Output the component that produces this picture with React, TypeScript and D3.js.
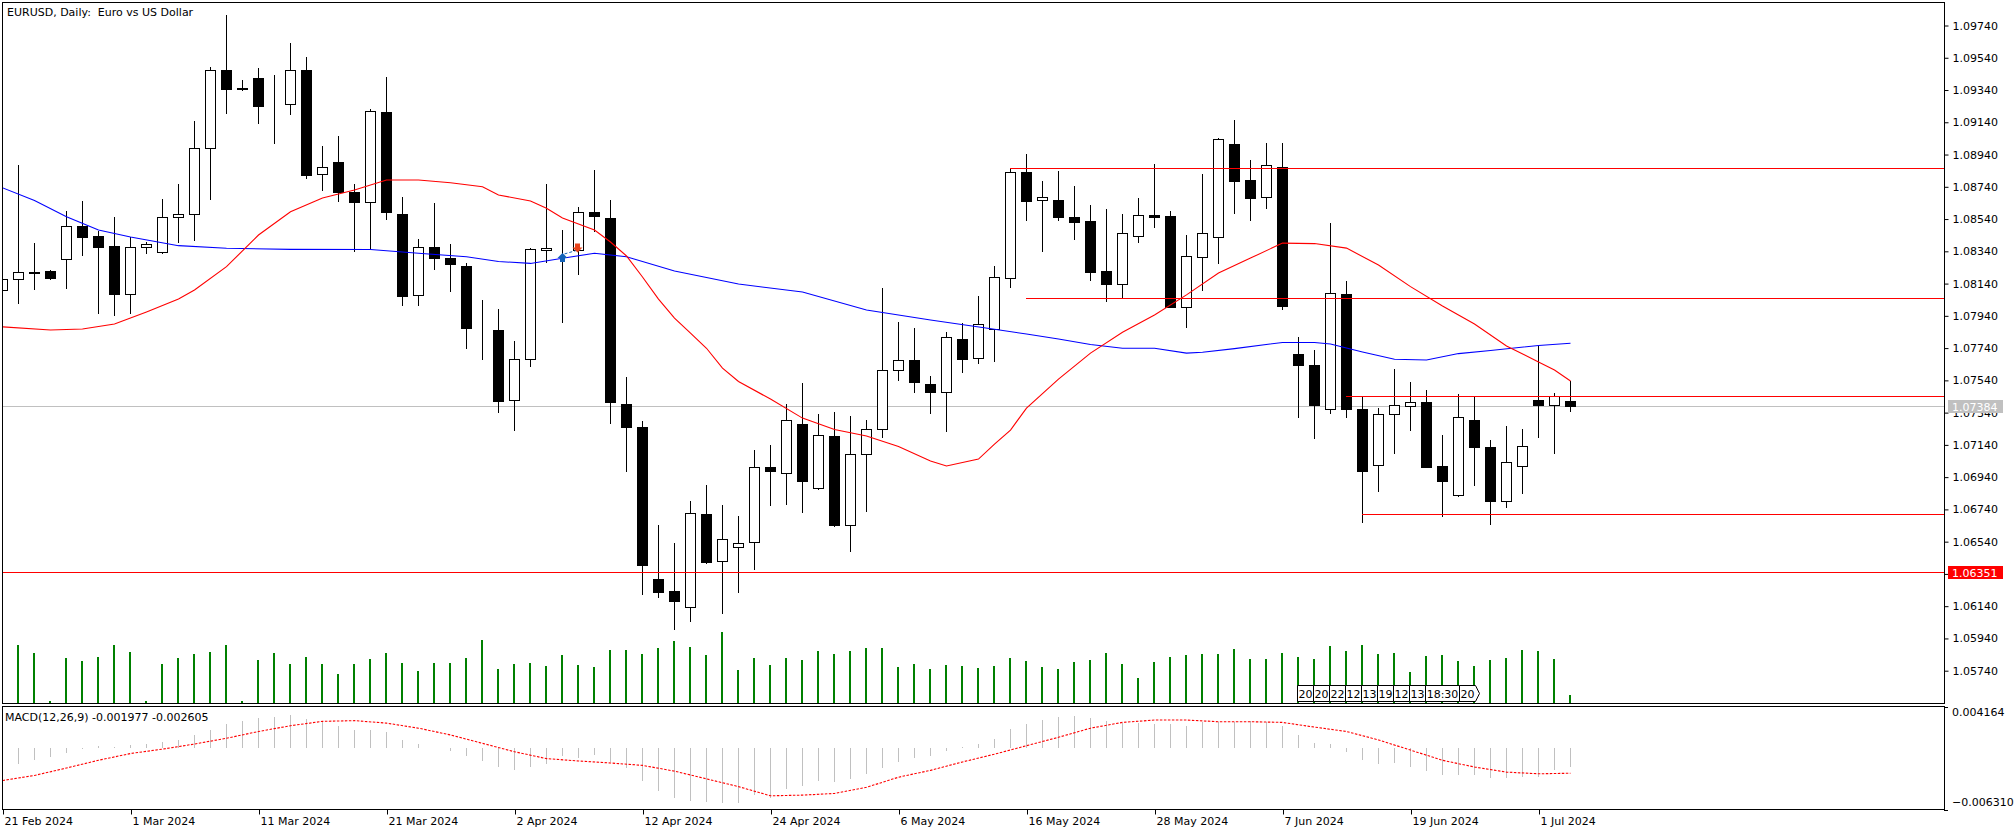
import { useEffect, useRef } from 'react';
import * as d3 from 'd3';

const WIDTH = 2016;
const HEIGHT = 834;
const FONT = '"DejaVu Sans", Verdana, sans-serif';

// EURUSD daily bars, 21 Feb 2024 .. 3 Jul 2024 (includes 3 short Sunday bars before US DST)
const opens = [1.08098,1.08166,1.08212,1.08218,1.08290,1.08495,1.08433,1.08371,1.08073,1.08365,
  1.08334,1.08551,1.08569,1.08979,1.09462,1.09348,1.09413,1.09247,1.09251,1.09462,
  1.08817,1.08892,1.08706,1.08644,1.09202,1.08569,1.08067,1.08365,1.08297,1.08247,
  1.07860,1.07850,1.07416,1.07670,1.08346,1.08352,1.08348,1.08584,1.08546,1.07391,
  1.07251,1.06306,1.06232,1.06133,1.06711,1.06418,1.06505,1.06536,1.07001,1.06964,
  1.07269,1.06871,1.07195,1.06641,1.07083,1.07236,1.07602,1.07666,1.07517,1.07470,
  1.07796,1.07676,1.07858,1.08173,1.08832,1.08656,1.08658,1.08553,1.08528,1.08218,
  1.08135,1.08437,1.08563,1.08559,1.07993,1.08303,1.08427,1.09005,1.08782,1.08675,
  1.08861,1.07701,1.07633,1.07360,1.08073,1.07360,1.07013,1.07329,1.07379,1.07404,
  1.07007,1.06827,1.07292,1.07125,1.06790,1.07007,1.07416,1.07385,1.07410];
const highs = [1.08212,1.08875,1.08391,1.08224,1.08590,1.08652,1.08466,1.08551,1.08427,1.08396,
  1.08662,1.08757,1.09148,1.09481,1.09805,1.09400,1.09475,1.09431,1.09631,1.09543,
  1.08993,1.09055,1.08755,1.09222,1.09421,1.08675,1.08416,1.08639,1.08383,1.08266,
  1.08036,1.07980,1.07784,1.08358,1.08757,1.08472,1.08617,1.08844,1.08660,1.07561,
  1.07288,1.06643,1.06531,1.06792,1.06891,1.06767,1.06699,1.07108,1.07139,1.07393,
  1.07523,1.07331,1.07344,1.07319,1.07292,1.08112,1.07902,1.07864,1.07567,1.07838,
  1.07897,1.08065,1.08249,1.08857,1.08943,1.08776,1.08838,1.08745,1.08627,1.08602,
  1.08571,1.08670,1.08881,1.08590,1.08441,1.08819,1.09042,1.09154,1.08906,1.09011,
  1.09011,1.07807,1.07730,1.08514,1.08156,1.07439,1.07366,1.07608,1.07530,1.07480,
  1.07201,1.07453,1.07439,1.07168,1.07257,1.07238,1.07757,1.07462,1.07534];
const lows = [1.08063,1.08021,1.08108,1.08170,1.08114,1.08317,1.07959,1.07947,1.07959,1.08328,
  1.08330,1.08400,1.08412,1.08666,1.09199,1.09340,1.09137,1.09013,1.09193,1.08796,
  1.08722,1.08654,1.08340,1.08354,1.08542,1.08009,1.08009,1.08232,1.08096,1.07742,
  1.07670,1.07344,1.07234,1.07631,1.08274,1.07904,1.08201,1.08468,1.07277,1.06980,
  1.06217,1.06195,1.06000,1.06050,1.06406,1.06096,1.06230,1.06372,1.06769,1.06775,
  1.06726,1.06868,1.06639,1.06484,1.06732,1.07191,1.07544,1.07470,1.07339,1.07228,
  1.07594,1.07649,1.07662,1.08121,1.08534,1.08342,1.08534,1.08416,1.08162,1.08034,
  1.08049,1.08400,1.08493,1.07993,1.07873,1.08100,1.08269,1.08579,1.08534,1.08610,
  1.07982,1.07314,1.07184,1.07336,1.07314,1.06663,1.06856,1.07091,1.07232,1.07002,
  1.06701,1.06824,1.06890,1.06651,1.06757,1.06843,1.07191,1.07091,1.07352];
const closes = [1.08166,1.08210,1.08208,1.08176,1.08495,1.08430,1.08369,1.08077,1.08365,1.08383,
  1.08551,1.08569,1.08979,1.09462,1.09348,1.09352,1.09243,1.09245,1.09462,1.08815,
  1.08861,1.08708,1.08644,1.09208,1.08586,1.08061,1.08365,1.08300,1.08263,1.07866,
  1.07856,1.07415,1.07675,1.08352,1.08358,1.08354,1.08582,1.08557,1.07408,1.07249,
  1.06397,1.06230,1.06174,1.06716,1.06416,1.06554,1.06530,1.07001,1.06976,1.07292,
  1.06918,1.07199,1.06645,1.07083,1.07236,1.07604,1.07664,1.07532,1.07470,1.07807,
  1.07674,1.07887,1.08181,1.08832,1.08654,1.08675,1.08553,1.08524,1.08212,1.08139,
  1.08452,1.08563,1.08555,1.07997,1.08311,1.08452,1.09034,1.08778,1.08672,1.08873,
  1.08001,1.07637,1.07389,1.08080,1.07360,1.06980,1.07329,1.07385,1.07404,1.07005,
  1.06914,1.07311,1.07128,1.06794,1.07032,1.07131,1.07389,1.07443,1.07384];

// tick volume, thousands
const volumes = [50,58,50,2,45,42,46,58,51,2,39,45,49,51,58,2,43,50,39,46,
  39,29,39,44,50,40,32,40,40,45,63,34,39,40,37,48,38,36,53,53,
  49,55,62,56,48,71,33,45,38,45,43,52,49,52,55,55,36,39,34,38,
  37,35,37,45,42,36,34,41,43,50,39,25,41,46,48,49,49,54,44,44,
  50,46,44,57,52,58,49,50,31,47,48,42,37,43,45,53,52,44,8];

// MACD(12,26,9) main line (histogram) per bar
const macdMain = [-0.00190,-0.00169,-0.00128,-0.00097,-0.00055,-0.00014,0.00018,0.00010,0.00028,0.00038,
  0.00059,0.00080,0.00131,0.00183,0.00245,0.00277,0.00308,0.00318,0.00339,0.00297,
  0.00266,0.00225,0.00183,0.00183,0.00163,0.00080,0.00038,0.00002,-0.00031,-0.00086,
  -0.00138,-0.00200,-0.00231,-0.00200,-0.00169,-0.00086,-0.00107,-0.00076,-0.00148,-0.00211,
  -0.00335,-0.00439,-0.00511,-0.00542,-0.00553,-0.00563,-0.00563,-0.00480,-0.00511,-0.00418,
  -0.00394,-0.00342,-0.00353,-0.00321,-0.00270,-0.00207,-0.00145,-0.00104,-0.00083,-0.00031,
  0.00003,0.00038,0.00090,0.00194,0.00245,0.00287,0.00318,0.00328,0.00308,0.00277,
  0.00256,0.00256,0.00245,0.00245,0.00225,0.00266,0.00266,0.00266,0.00277,0.00266,
  0.00225,0.00131,0.00048,0.00038,-0.00041,-0.00124,-0.00166,-0.00156,-0.00197,-0.00239,
  -0.00280,-0.00280,-0.00280,-0.00311,-0.00311,-0.00301,-0.00301,-0.00228,-0.001977];

// signal line, read every second bar: [bar, value]
const macdSignal: [number, number][] = [[0,-0.00335],[2,-0.00283],[4,-0.00207],[6,-0.00128],[8,-0.00059],
  [10,-0.00014],[12,0.00038],[14,0.00097],[16,0.00166],[18,0.00225],[20,0.00270],[22,0.00277],
  [24,0.00252],[26,0.00200],[28,0.00131],[30,0.00045],[32,-0.00041],[34,-0.00111],[36,-0.00135],
  [38,-0.00156],[40,-0.00180],[42,-0.00239],[44,-0.00318],[46,-0.00397],[48,-0.00491],[50,-0.00484],
  [52,-0.00467],[54,-0.00404],[56,-0.00301],[58,-0.00231],[60,-0.00145],[62,-0.00066],[64,0.00021],
  [66,0.00107],[68,0.00200],[70,0.00259],[72,0.00283],[74,0.00283],[76,0.00266],[78,0.00266],
  [80,0.00259],[82,0.00211],[84,0.00166],[86,0.00080],[88,-0.00024],[90,-0.00128],[92,-0.00197],
  [94,-0.00249],[96,-0.00266],[98,-0.002605]];

// moving averages: [bar, price]
const maFast: [number, number][] = [[0,1.07872],[3,1.07852],[5,1.07858],[7,1.07889],[9,1.07964],
  [11,1.08044],[12,1.08100],[14,1.08245],[16,1.08441],[18,1.08585],[20,1.08670],[22,1.08720],
  [24,1.08782],[26,1.08782],[28,1.08765],[30,1.08740],[31,1.08689],[33,1.08652],[34,1.08607],
  [35,1.08546],[37,1.08472],[38,1.08398],[39,1.08311],[40,1.08181],[41,1.08044],[42,1.07926],
  [43,1.07833],[44,1.07739],[45,1.07616],[46,1.07533],[48,1.07424],[50,1.07306],[52,1.07235],
  [54,1.07195],[56,1.07130],[58,1.07040],[59,1.07009],[61,1.07052],[62,1.07145],[63,1.07232],
  [64,1.07368],[66,1.07548],[68,1.07709],[70,1.07838],[72,1.07945],[74,1.08070],[76,1.08205],
  [78,1.08298],[80,1.08391],[82,1.08388],[84,1.08360],[86,1.08255],[88,1.08121],[90,1.08001],
  [92,1.07889],[94,1.07753],[96,1.07654],[97,1.07604],[98,1.07536]];
const maSlow: [number, number][] = [[0,1.08734],[2,1.08655],[4,1.08555],[6,1.08472],[8,1.08429],
  [11,1.08375],[14,1.08359],[18,1.08352],[23,1.08351],[26,1.08328],[29,1.08306],[31,1.08277],
  [33,1.08265],[35,1.08297],[37,1.08328],[39,1.08306],[42,1.08218],[46,1.08137],[50,1.08088],
  [54,1.07976],[58,1.07914],[62,1.07857],[64,1.07827],[66,1.07796],[68,1.07762],[70,1.07739],
  [72,1.07739],[74,1.07709],[75,1.07714],[77,1.07737],[80,1.07775],[82,1.07775],[83,1.07765],
  [85,1.07716],[87,1.07671],[89,1.07666],[91,1.07706],[93,1.07725],[96,1.07756],[98,1.07770]];

const priceTicks = [1.0974,1.0954,1.0934,1.0914,1.0894,1.0874,1.0854,1.0834,1.0814,1.0794,1.0774,
  1.0754,1.0734,1.0714,1.0694,1.0674,1.0654,1.0634,1.0614,1.0594,1.0574];
const dateLabels = ['21 Feb 2024','1 Mar 2024','11 Mar 2024','21 Mar 2024','2 Apr 2024','12 Apr 2024',
  '24 Apr 2024','6 May 2024','16 May 2024','28 May 2024','7 Jun 2024','19 Jun 2024','1 Jul 2024'];
const dateBars = [0,8,16,24,32,40,48,56,64,72,80,88,96];

// horizontal levels drawn from a bar to the right edge
const levelPrices = [1.08857, 1.08049, 1.07441, 1.06709];
const levelStartBars = [63, 64, 84, 85];
const keyLevel = 1.06351;
const lastPrice = 1.07384;

// calendar event markers
const eventLabels = ['20','20','22','12','13','19','12','13','18:30','20'];
const eventBars = [81,82,83,84,85,86,87,88,89,91];

// trade: buy and close
const tradeBars = [35, 36];
const tradePrices = [1.08330, 1.08333];

const MACD_TOP = 707;
const MACD_BOTTOM = 809.5;

export default function App() {
  const svgRef = useRef<SVGSVGElement>(null);

  useEffect(() => {
    const svg = d3.select(svgRef.current);
    svg.selectAll('*').remove();

    const x = d3.scaleLinear().domain([0, 98]).range([2, 1570]);
    const y = d3.scaleLinear().domain([1.0574, 1.0974]).range([670.7, 25.5]);
    const yVol = d3.scaleLinear().domain([0, 71]).range([703, 632]);
    const yMacd = d3.scaleLinear().domain([-0.00631, 0.004164]).range([MACD_BOTTOM, MACD_TOP]);

    svg.append('rect').attr('width', WIDTH).attr('height', HEIGHT).attr('fill', '#fff');

    const defs = svg.append('defs');
    defs.append('clipPath').attr('id', 'mainClip')
      .append('rect').attr('x', 3).attr('y', 3).attr('width', 1941).attr('height', 700);
    defs.append('clipPath').attr('id', 'macdClip')
      .append('rect').attr('x', 3).attr('y', 707).attr('width', 1941).attr('height', 102);

    const main = svg.append('g').attr('clip-path', 'url(#mainClip)');

    // volumes
    main.append('g').selectAll('rect').data(volumes).enter().append('rect')
      .attr('x', (d, i) => Math.round(x(i)) - 1)
      .attr('y', d => yVol(d))
      .attr('width', 2)
      .attr('height', d => yVol(0) - yVol(d))
      .attr('fill', '#008000')
      .attr('shape-rendering', 'crispEdges');

    // bid line
    main.append('line')
      .attr('x1', 2).attr('x2', 1944)
      .attr('y1', Math.round(y(lastPrice)) + 0.5).attr('y2', Math.round(y(lastPrice)) + 0.5)
      .attr('stroke', '#c0c0c0').attr('shape-rendering', 'crispEdges');

    // candles
    const candles = main.append('g').attr('shape-rendering', 'crispEdges');
    opens.forEach((o, i) => {
      const c = closes[i];
      const cx = Math.round(x(i));
      candles.append('line')
        .attr('x1', cx + 0.5).attr('x2', cx + 0.5)
        .attr('y1', Math.round(y(highs[i]))).attr('y2', Math.round(y(lows[i])) + 1)
        .attr('stroke', '#000');
      const top = Math.round(y(Math.max(o, c)));
      const bottom = Math.round(y(Math.min(o, c)));
      candles.append('rect')
        .attr('x', cx - 4.5).attr('y', top + 0.5)
        .attr('width', 10).attr('height', Math.max(bottom - top, 0))
        .attr('fill', c >= o ? '#fff' : '#000')
        .attr('stroke', '#000');
    });

    // moving averages
    const maLine = d3.line<[number, number]>().x(d => x(d[0]) + 0.5).y(d => y(d[1]));
    main.append('path').attr('d', maLine(maSlow)).attr('fill', 'none').attr('stroke', '#0000ff').attr('stroke-width', 1.1);
    main.append('path').attr('d', maLine(maFast)).attr('fill', 'none').attr('stroke', '#ff0000').attr('stroke-width', 1.1);

    // levels
    levelPrices.forEach((p, k) => {
      const yy = Math.round(y(p)) + 0.5;
      main.append('line')
        .attr('x1', x(levelStartBars[k])).attr('x2', 1944)
        .attr('y1', yy).attr('y2', yy)
        .attr('stroke', '#ff0000').attr('stroke-width', 1.2);
    });
    const kyy = Math.round(y(keyLevel)) + 0.5;
    main.append('line').attr('x1', 2).attr('x2', 1944).attr('y1', kyy).attr('y2', kyy)
      .attr('stroke', '#ff0000').attr('stroke-width', 1.2);

    // trade arrows
    const bx = x(tradeBars[0]) + 0.5, by = y(tradePrices[0]);
    const sx = x(tradeBars[1]) + 0.5, sy = y(tradePrices[1]);
    main.append('line').attr('x1', bx + 2).attr('y1', by + 1).attr('x2', sx - 2).attr('y2', sy - 2)
      .attr('stroke', '#1463b8').attr('stroke-dasharray', '3 2');
    main.append('path')
      .attr('d', `M${bx},${by} l5,5 h-2.5 v4 h-5 v-4 h-2.5 z`)
      .attr('fill', '#1463b8');
    main.append('path')
      .attr('d', `M${sx - 1},${sy} l5,-5 h-2.5 v-4 h-5 v4 h-2.5 z`)
      .attr('fill', '#e8441c');

    // calendar events
    const ev = svg.append('g').style('font-family', FONT).style('font-size', '11px');
    let cursor = -Infinity;
    eventLabels.forEach((label, k) => {
      const g = ev.append('g');
      const left = Math.max(Math.round(x(eventBars[k])) - 1, cursor);
      const box = g.append('path');
      const t = g.append('text').attr('y', 698).attr('text-anchor', 'middle').text(label);
      const w = Math.round((t.node() as SVGTextElement).getComputedTextLength()) + 2;
      t.attr('x', left + w / 2 + 0.5);
      const x0 = left + 0.5, x1 = left + w + 0.5;
      const last = k === eventLabels.length - 1;
      box.attr('d', last
        ? `M${x0},685.5 H${x1} L${x1 + 4},693.5 L${x1},701.5 H${x0} Z`
        : `M${x0},685.5 H${x1} V701.5 H${x0} Z`)
        .attr('fill', '#fff').attr('stroke', '#000');
      cursor = left + w;
    });

    // MACD panel
    const macd = svg.append('g').attr('clip-path', 'url(#macdClip)');
    macd.append('g').selectAll('line').data(macdMain).enter().append('line')
      .attr('x1', (d, i) => Math.round(x(i)) + 0.5)
      .attr('x2', (d, i) => Math.round(x(i)) + 0.5)
      .attr('y1', yMacd(0))
      .attr('y2', d => yMacd(d))
      .attr('stroke', '#c0c0c0')
      .attr('shape-rendering', 'crispEdges');
    const sigLine = d3.line<[number, number]>().x(d => x(d[0]) + 0.5).y(d => yMacd(d[1]));
    macd.append('path').attr('d', sigLine(macdSignal)).attr('fill', 'none')
      .attr('stroke', '#ff0000').attr('stroke-width', 1.1).attr('stroke-dasharray', '2.5 1.5');

    // panel borders
    svg.append('rect').attr('x', 2.5).attr('y', 2.5).attr('width', 1942).attr('height', 701)
      .attr('fill', 'none').attr('stroke', '#000').attr('shape-rendering', 'crispEdges');
    svg.append('rect').attr('x', 2.5).attr('y', 706.5).attr('width', 1942).attr('height', 103)
      .attr('fill', 'none').attr('stroke', '#000').attr('shape-rendering', 'crispEdges');

    // price axis
    const yAxis = svg.append('g')
      .attr('transform', 'translate(1944.5,0)')
      .call(d3.axisRight(y).tickValues(priceTicks).tickSize(4).tickPadding(4).tickFormat(d3.format('.5f')));
    yAxis.select('.domain').remove();
    yAxis.selectAll('text').style('font-family', FONT).style('font-size', '11px').attr('fill', '#000');

    // price tags
    const tag = (price: number, fill: string) => {
      const yy = y(price);
      svg.append('rect').attr('x', 1948).attr('y', Math.round(yy) - 6).attr('width', 55).attr('height', 13)
        .attr('fill', fill).attr('shape-rendering', 'crispEdges');
      svg.append('text').attr('x', 1952).attr('y', Math.round(yy) + 4.5)
        .style('font-family', FONT).style('font-size', '11px').attr('fill', '#fff')
        .text(d3.format('.5f')(price));
    };
    tag(lastPrice, '#c0c0c0');
    tag(keyLevel, '#ff0000');

    // MACD scale
    const macdScale = svg.append('g').style('font-family', FONT).style('font-size', '11px');
    [[MACD_TOP, 716, 0.004164], [MACD_BOTTOM, 806, -0.00631]].forEach(([ty, by2, v]) => {
      macdScale.append('line').attr('x1', 1944).attr('x2', 1948).attr('y1', Math.round(ty) + 0.5).attr('y2', Math.round(ty) + 0.5)
        .attr('stroke', '#000').attr('shape-rendering', 'crispEdges');
      macdScale.append('text').attr('x', 1952).attr('y', by2).text(d3.format('.6f')(v));
    });

    // time axis
    const xAxis = svg.append('g')
      .attr('transform', 'translate(0,809.5)')
      .call(d3.axisBottom(x).tickValues(dateBars).tickSize(5).tickPadding(3).tickFormat((d, i) => dateLabels[i]));
    xAxis.select('.domain').remove();
    xAxis.selectAll('.tick line').attr('transform', 'translate(1,0)');
    xAxis.selectAll('text').attr('text-anchor', 'start').attr('x', 2)
      .style('font-family', FONT).style('font-size', '11px').attr('fill', '#000');

    // labels
    svg.append('text').attr('x', 7).attr('y', 15.5)
      .style('font-family', FONT).style('font-size', '11px').style('white-space', 'pre')
      .text('EURUSD, Daily:  Euro vs US Dollar');
    svg.append('text').attr('x', 5).attr('y', 721)
      .style('font-family', FONT).style('font-size', '11px')
      .text('MACD(12,26,9) -0.001977 -0.002605');
  }, []);

  return (
    <svg
      ref={svgRef}
      width={WIDTH}
      height={HEIGHT}
      style={{ position: 'absolute', left: 0, top: 0, display: 'block' }}
    />
  );
}
